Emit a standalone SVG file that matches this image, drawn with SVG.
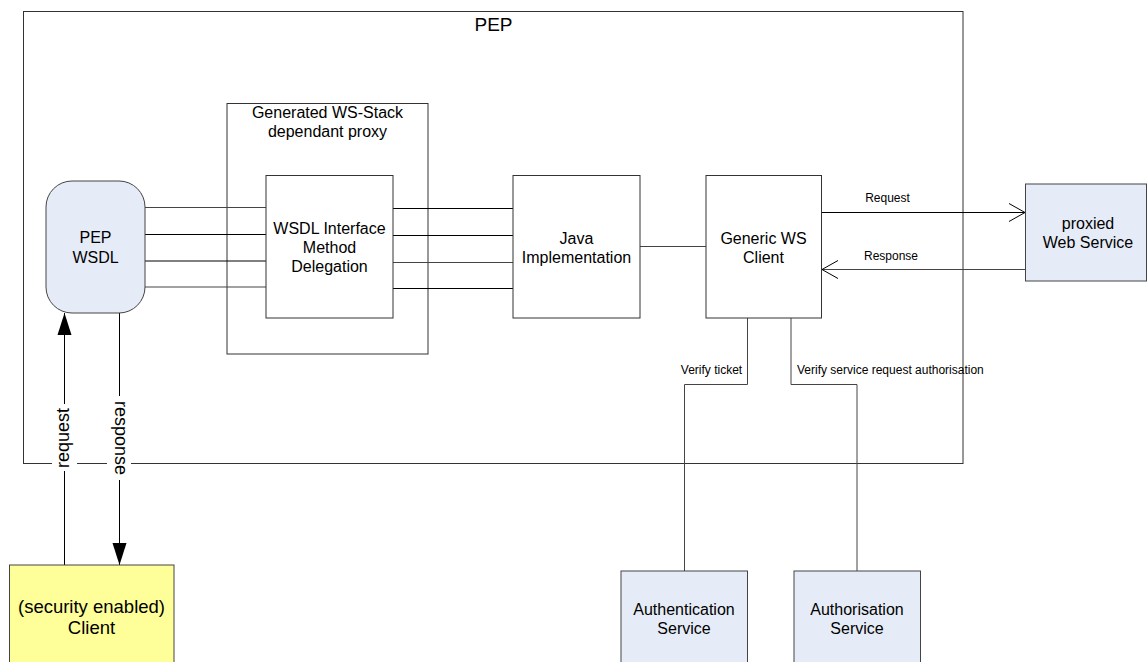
<svg xmlns="http://www.w3.org/2000/svg" width="1147" height="662" viewBox="0 0 1147 662">
<style>
text{font-family:"Liberation Sans",Arial,sans-serif;fill:#000;text-anchor:middle}
.n16{font-size:16px}
.n12{font-size:12px}
.box{fill:#fff;stroke:#333;stroke-width:1}
.blue{fill:#e6ecf7;stroke:#444;stroke-width:1}
.yellow{fill:#ffff99;stroke:#444;stroke-width:1}
.ln{fill:none;stroke:#000;stroke-width:1}
.gl{fill:none;stroke:#444;stroke-width:1}
</style>
<defs>
<marker id="open" markerUnits="userSpaceOnUse" markerWidth="20" markerHeight="20" refX="16" refY="9" orient="auto" overflow="visible">
<path d="M0,0 L16,9 L0,18" fill="none" stroke="#000" stroke-width="1"/>
</marker>
<marker id="solid" markerUnits="userSpaceOnUse" markerWidth="24" markerHeight="16" refX="22" refY="7" orient="auto" overflow="visible">
<path d="M0,0 L22,7 L0,14 z" fill="#000" stroke="none"/>
</marker>
</defs>
<rect width="1147" height="662" fill="#fff"/>

<g id="pep">
<rect x="23.5" y="11.5" width="939.5" height="452" fill="none" stroke="#333" stroke-width="1"/>
<text x="493.5" y="31" style="font-size:19px">PEP</text>
</g>

<g id="ws-stack-proxy">
<rect class="box" x="227" y="103.5" width="201" height="250.5" fill="none"/>
<text class="n16" x="327.5" y="118">Generated WS-Stack</text>
<text class="n16" x="327.5" y="137">dependant proxy</text>
</g>

<g id="connectors">
<line class="gl" x1="145" y1="207.5" x2="266" y2="207.5"/>
<line class="ln" x1="145" y1="234.5" x2="266" y2="234.5"/>
<line class="ln" x1="145" y1="261" x2="266" y2="261"/>
<line class="gl" x1="145" y1="287" x2="266" y2="287"/>
<line class="ln" x1="393" y1="208.5" x2="513" y2="208.5"/>
<line class="ln" x1="393" y1="235.5" x2="513" y2="235.5"/>
<line class="gl" x1="393" y1="262.5" x2="513" y2="262.5"/>
<line class="ln" x1="393" y1="288.5" x2="513" y2="288.5"/>
<line class="gl" x1="640" y1="246.5" x2="706" y2="246.5"/>
<line class="ln" x1="822" y1="212.5" x2="1025" y2="212.5" marker-end="url(#open)"/>
<line class="gl" x1="1025" y1="269.5" x2="822" y2="269.5" marker-end="url(#open)"/>
<polyline class="gl" points="747.5,318 747.5,384.5 684.5,384.5 684.5,571"/>
<polyline class="gl" points="791,318 791,384.5 857,384.5 857,571"/>
<line class="ln" x1="64.5" y1="565" x2="64.5" y2="313" marker-end="url(#solid)"/>
<line class="ln" x1="119.5" y1="313" x2="119.5" y2="565" marker-end="url(#solid)"/>
<rect x="52" y="404" width="25" height="67" fill="#fff"/>
<rect x="107" y="396" width="24" height="84" fill="#fff"/>
<text transform="translate(69,438) rotate(-90)" style="font-size:18px">request</text>
<text transform="translate(114.5,438) rotate(90)" style="font-size:18px">response</text>
<text class="n12" x="887.5" y="202">Request</text>
<text class="n12" x="891" y="260">Response</text>
<text class="n12" x="711.5" y="374">Verify ticket</text>
<text class="n12" x="797" y="374" style="text-anchor:start">Verify service request authorisation</text>
</g>

<g id="pep-wsdl">
<rect class="blue" x="46" y="181" width="99" height="132" rx="26" ry="26"/>
<text class="n16" x="95.5" y="243">PEP</text>
<text class="n16" x="95.5" y="262.5">WSDL</text>
</g>

<g id="wsdl-interface">
<rect class="box" x="266" y="175.5" width="127" height="142.5"/>
<text class="n16" x="329.5" y="233.5">WSDL Interface</text>
<text class="n16" x="329.5" y="252.7">Method</text>
<text class="n16" x="329.5" y="271.9">Delegation</text>
</g>

<g id="java-impl">
<rect class="box" x="513" y="175.5" width="127" height="142.5"/>
<text class="n16" x="576.5" y="243.5">Java</text>
<text class="n16" x="576.5" y="262.5">Implementation</text>
</g>

<g id="generic-ws-client">
<rect class="box" x="706" y="175.5" width="115.5" height="142.5"/>
<text class="n16" x="763.5" y="243.5">Generic WS</text>
<text class="n16" x="763.5" y="262.5">Client</text>
</g>

<g id="proxied-ws">
<rect class="blue" x="1025.5" y="184" width="121" height="97"/>
<text class="n16" x="1088" y="229">proxied</text>
<text class="n16" x="1088" y="247.5">Web Service</text>
</g>

<g id="client">
<rect class="yellow" x="9.5" y="565" width="164.5" height="110"/>
<text x="91.5" y="612.5" style="font-size:18.5px">(security enabled)</text>
<text x="91.5" y="634" style="font-size:18.5px">Client</text>
</g>

<g id="authentication">
<rect class="blue" x="621" y="571" width="126.5" height="104"/>
<text class="n16" x="684" y="614.5">Authentication</text>
<text class="n16" x="684" y="634">Service</text>
</g>

<g id="authorisation">
<rect class="blue" x="794" y="571" width="126.5" height="104"/>
<text class="n16" x="857" y="614.5">Authorisation</text>
<text class="n16" x="857" y="634">Service</text>
</g>
</svg>
